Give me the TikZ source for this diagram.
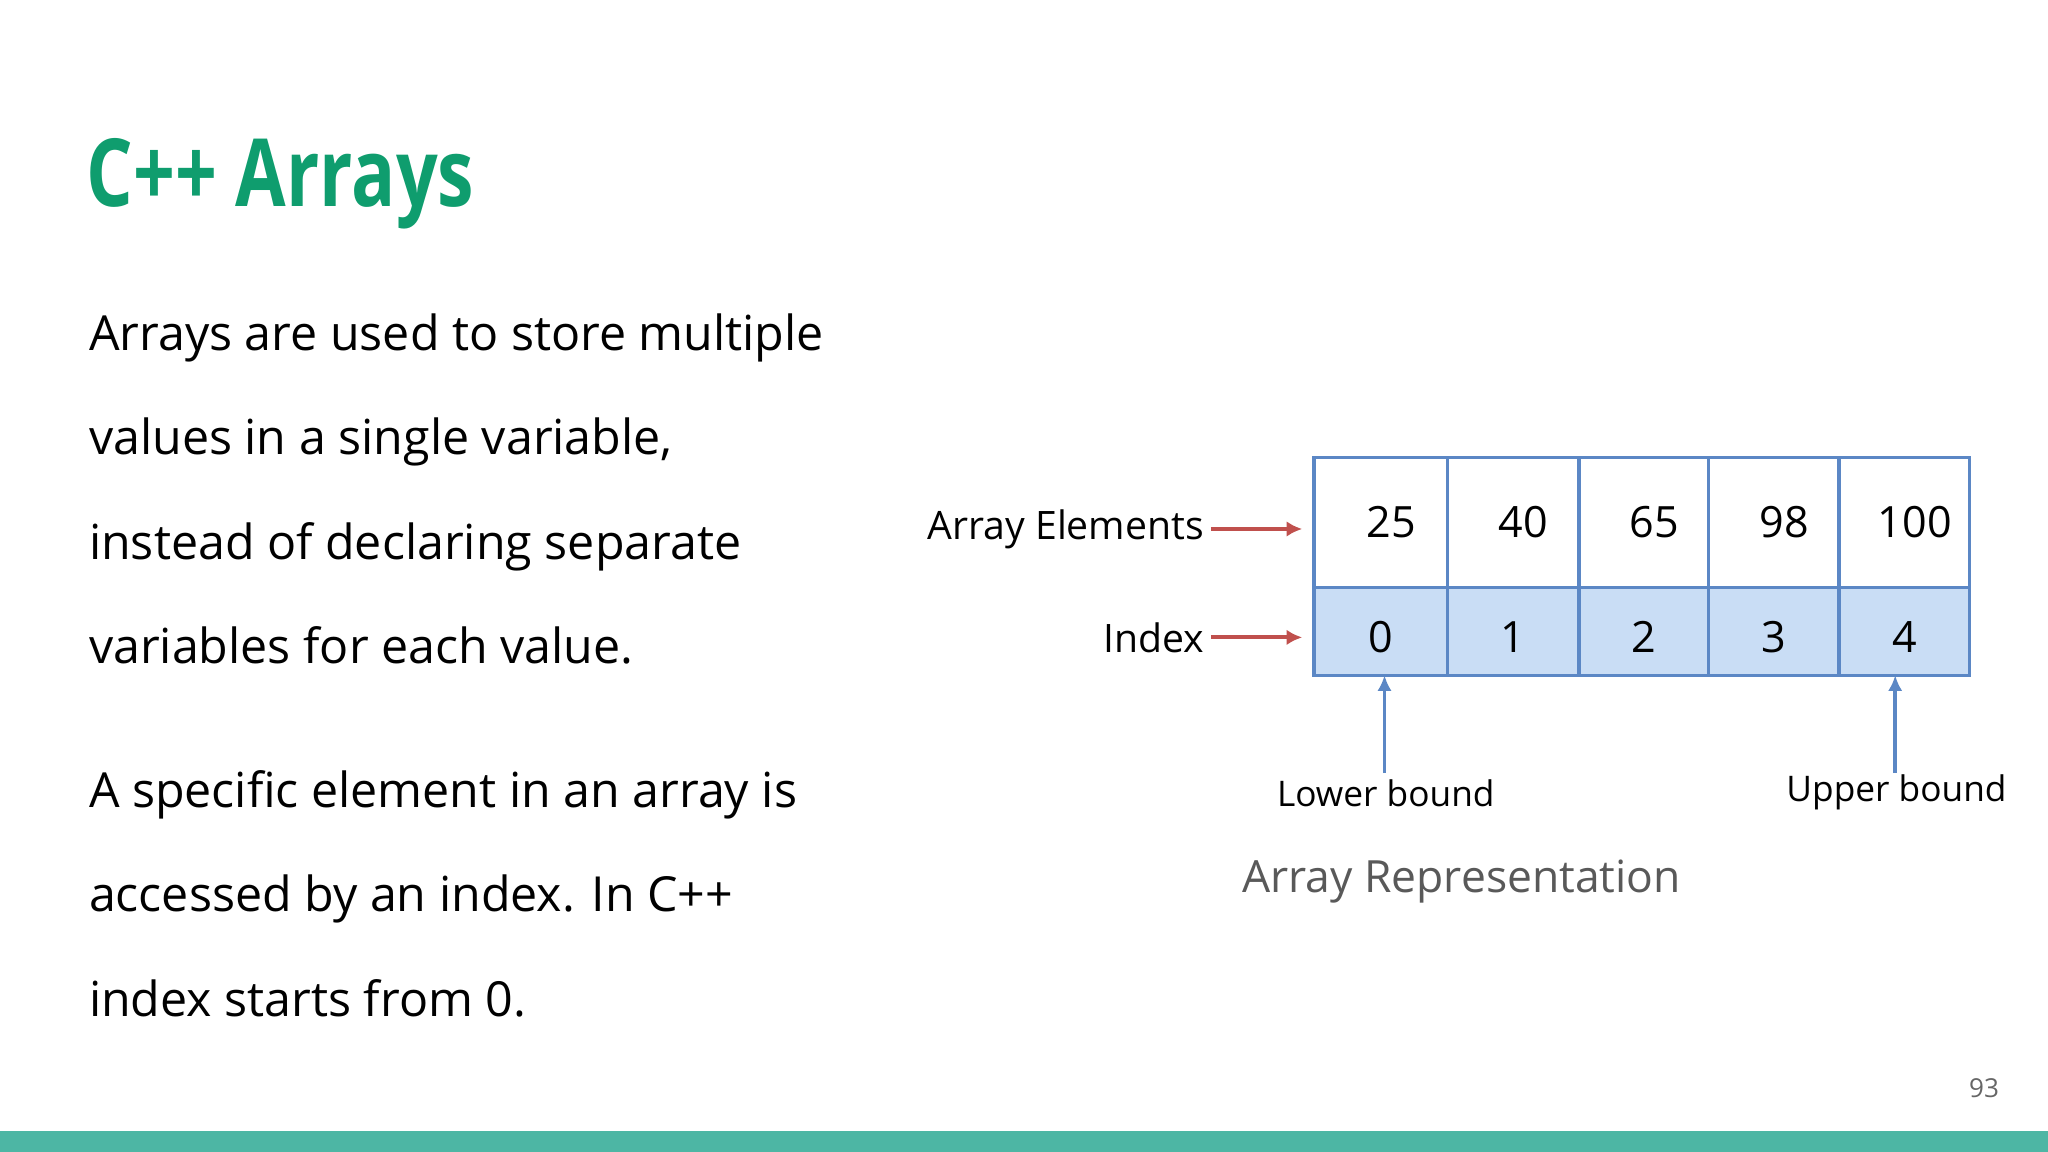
\documentclass[tikz,border=0pt]{standalone}
\usepackage{fontspec}
\setmainfont{Open Sans}
\usetikzlibrary{arrows.meta}
\definecolor{ttl}{HTML}{0F9D6E}
\definecolor{bar}{HTML}{4DB6A4}
\definecolor{bx}{HTML}{5B87C5}
\definecolor{rd}{HTML}{C0504D}
\definecolor{ib}{HTML}{C9DDF5}
\tikzset{body/.style={anchor=base west,font=\fontsize{37}{44}\selectfont,inner sep=0},
 lab/.style={font=\fontsize{30}{34}\selectfont,inner sep=0},
 cell/.style={draw=bx,line width=2.5pt},
 rarr/.style={draw=rd,line width=3pt,-{Latex[length=12pt,width=12pt]}},
 barr/.style={draw=bx,line width=3pt,-{Latex[length=12pt,width=11pt]}}}
\begin{document}
\begin{tikzpicture}[x=1pt,y=-1pt]
\useasboundingbox (0,0) rectangle (1568,882);
\fill[bar] (0,866) rectangle (1568,882);
\node[anchor=base west,inner sep=0,text=ttl,font=\bfseries\fontsize{72}{80}\selectfont] (title) at (66,158) {\scalebox{0.78}[1]{C++ Arrays}};
\node[body] (l1) at (68,268) {Arrays are used to store multiple};
\node[body] (l2) at (68,348) {values in a single variable,};
\node[body] (l3) at (68,428) {instead of declaring separate};
\node[body] (l4) at (68,508) {variables for each value.};
\node[body] (l5) at (68,618) {A specific element in an array is};
\node[body] (l6) at (68,698) {accessed by an index. In C++};
\node[body] (l7) at (68,778) {index starts from 0.};
% array
\fill[ib] (1006,450) rectangle (1508,517);
\foreach \a/\b/\v/\i [count=\k] in {1006/1108/25/0,1108/1209/40/1,1209/1308/65/2,1308/1408/98/3,1408/1508/100/4}{
  \draw[cell] (\a,350) rectangle (\b,450);
  \draw[cell] (\a,450) rectangle (\b,517);
  \node[lab,font=\fontsize{33}{36}\selectfont] (v\k) at ({(\a+\b)/2+8},400) {\v};
  \node[lab,font=\fontsize{33}{36}\selectfont] (i\k) at ({(\a+\b)/2},488) {\i};
}
\node[lab,anchor=east] (ae) at (922,405) {Array Elements};
\node[lab,anchor=east] (ix) at (922,488) {Index};
\coordinate (ae2) at (997,405);
\coordinate (ix2) at (997,488);
\draw[rarr] (ae.east) ++(5,0) -- (ae2);
\draw[rarr] (ix.east) ++(5,0) -- (ix2);
\node[lab,font=\fontsize{27}{30}\selectfont] (lb) at (1061,607) {Lower bound};
\node[lab,font=\fontsize{27}{30}\selectfont] (ub) at (1452,607) {Upper bound};
\coordinate (lbt) at (1060,517);
\coordinate (ubt) at (1451,517);
\draw[barr] (1060,592) -- (lbt);
\draw[barr] (1451,592) -- (ubt);
\node[lab,text=black!65,font=\fontsize{34}{38}\selectfont] (rep) at (1119,675) {Array Representation};
\node[lab,text=black!60,font=\fontsize{20}{24}\selectfont] (pg) at (1519,833) {93};
\end{tikzpicture}
\end{document}
